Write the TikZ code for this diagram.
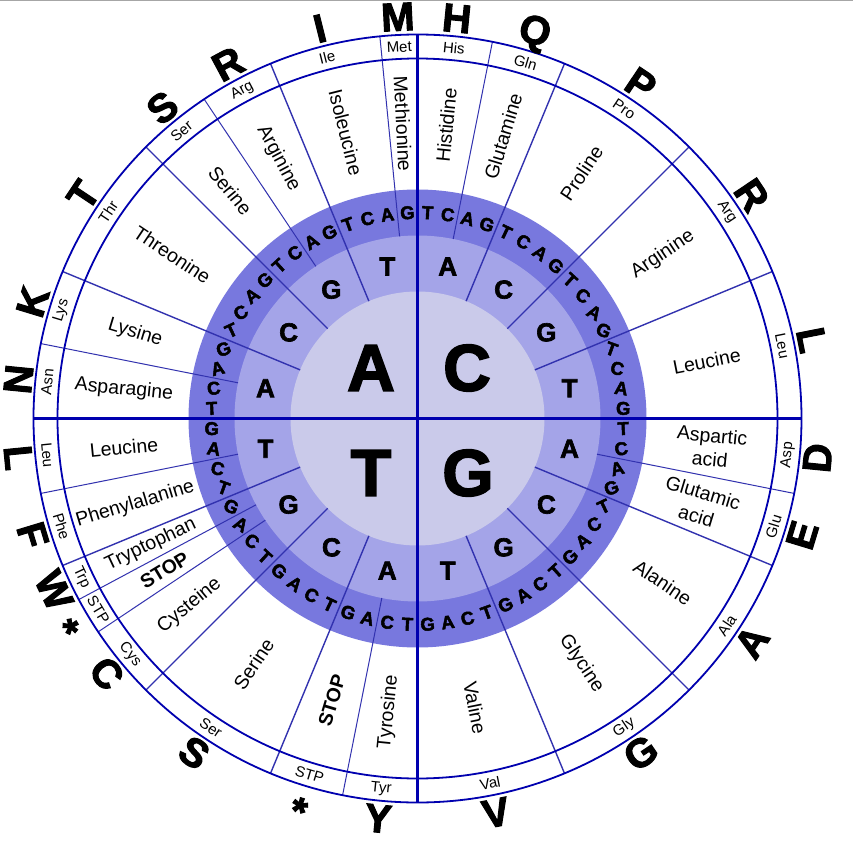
\documentclass[tikz,border=0pt]{standalone}
\usepackage{fontspec}
\setmainfont{Liberation Sans}
\newfontfamily\heavyfont{Liberation Sans Bold}[FakeBold=2.5]
\definecolor{ringdark}{RGB}{120,120,222}
\definecolor{ringmid}{RGB}{164,164,232}
\definecolor{ringlight}{RGB}{202,202,234}
\definecolor{linedark}{RGB}{0,0,175}
\definecolor{linemid}{RGB}{50,50,175}
\newcommand\thirdlet[1]{\ifcase#1 T\or C\or A\or G\fi}
\newcommand\baselet[1]{\ifcase#1 A\or C\or G\or T\fi}
\begin{document}
\begin{tikzpicture}[x=1pt,y=1pt,
  bigletter/.style={font=\fontsize{66}{66}\heavyfont, inner sep=0pt},
  secletter/.style={font=\fontsize{26}{26}\heavyfont, inner sep=0pt},
  thirdletter/.style={font=\fontsize{18.5}{18.5}\heavyfont, inner sep=0pt},
  aaname/.style={font=\fontsize{19.5}{24}\selectfont, inner sep=0pt, align=center},
  aaabbr/.style={font=\fontsize{15}{15}\selectfont, inner sep=0pt},
  aaletter/.style={font=\fontsize{40}{40}\heavyfont, inner sep=0pt},
  ringline/.style={draw=linedark, line width=1.8pt},
  crossline/.style={draw=linedark, line width=2.4pt},
  seprline/.style={draw=linemid, line width=1.4pt},
  aaline/.style={draw=linemid, line width=1pt}]
\useasboundingbox (-417.5,-422.5) rectangle (435.5,418.5);
\fill[white] (-417.5,-422.5) rectangle (435.5,418.5);
\draw[gray!70, line width=1.5pt] (-417.5,417.75) -- (435.5,417.75);
% rings
\fill[ringdark] (0,0) circle (229);
\fill[ringmid] (0,0) circle (183);
\fill[ringlight] (0,0) circle (127);
% radial separators
\foreach \k in {4,8,12,20,24,28,36,40,44,52,56,60} {
  \draw[seprline] ({180-5.625*\k}:127) -- ({180-5.625*\k}:384);
}
\foreach \k in {2,10,15,18,34,50,58,59,62} {
  \draw[aaline] ({180-5.625*\k}:183) -- ({180-5.625*\k}:384);
}
\draw[crossline] (-384,0) -- (384,0);
\draw[crossline] (0,-384) -- (0,384);
\draw[ringline] (0,0) circle (384);
\draw[ringline] (0,0) circle (360);
% first letters
\node[bigletter] (firstA) at (-46.5,50.5) {A};
\node[bigletter] (firstC) at (49.5,50.5) {C};
\node[bigletter] (firstT) at (-46.5,-54.5) {T};
\node[bigletter] (firstG) at (50.5,-54.5) {G};
% second letters
\foreach \q in {0,...,3} {
  \foreach \j in {0,...,3} {
    \pgfmathsetmacro\ang{168.75-90*\q-22.5*\j}
    \node[secletter] (sec\q\j) at (\ang:155) {\baselet{\j}};
  }
}
% third letters
\foreach \k in {0,...,63} {
  \pgfmathsetmacro\ang{177.1875-5.625*\k}
  \pgfmathsetmacro\rot{\ang>=90 ? 45-abs(\ang-135) : (\ang>=0 ? -(45-abs(\ang-45)) : (\ang>=-90 ? 45-abs(\ang+45) : -(45-abs(\ang+135))))}
  \pgfmathtruncatemacro\m{mod(\k,4)}
  \node[thirdletter, rotate=\rot] (third\k) at (\ang:206) {\thirdlet{\m}};
}
% amino acids
\foreach \ks/\ke/\nm/\ab/\sy/\lr [count=\i] in {
 0/1/Asparagine/Asn/N/401, 2/3/Lysine/Lys/K/402, 4/7/Threonine/Thr/T/402,
 8/9/Serine/Ser/S/402, 10/11/Arginine/Arg/R/402, 12/14/Isoleucine/Ile/I/402,
 15/15/Methionine/Met/M/402,
 16/17/Histidine/His/H/402, 18/19/Glutamine/Gln/Q/402, 20/23/Proline/Pro/P/402,
 24/27/Arginine/Arg/R/402, 28/31/Leucine/Leu/L/402,
 32/33/{Aspartic\\acid}/Asp/D/402, 34/35/{Glutamic\\acid}/Glu/E/402,
 36/39/Alanine/Ala/A/402, 40/43/Glycine/Gly/G/402, 44/47/Valine/Val/V/402,
 48/49/Tyrosine/Tyr/Y/402, 50/51/{\bfseries STOP}/STP/*/410.5,
 52/55/Serine/Ser/S/402, 56/57/Cysteine/Cys/C/402,
 58/58/{\bfseries STOP}/STP/*/410.5, 59/59/Tryptophan/Trp/W/402,
 60/61/Phenylalanine/Phe/F/402, 62/63/Leucine/Leu/L/401}
{
  \pgfmathsetmacro\ang{180-5.625*(\ks+\ke+1)/2}
  \pgfmathsetmacro\nrot{cos(\ang)>0 ? \ang : \ang+180}
  \pgfmathsetmacro\trot{\ang>0 ? \ang-90 : \ang+90}
  \node[aaname, rotate=\nrot] (name\i) at (\ang:295) {\nm};
  \node[aaabbr, rotate=\trot] (abbr\i) at (\ang:372) {\ab};
  \node[aaletter, rotate=\trot] (let\i) at (\ang:\lr) {\sy};
}
\end{tikzpicture}
\end{document}
